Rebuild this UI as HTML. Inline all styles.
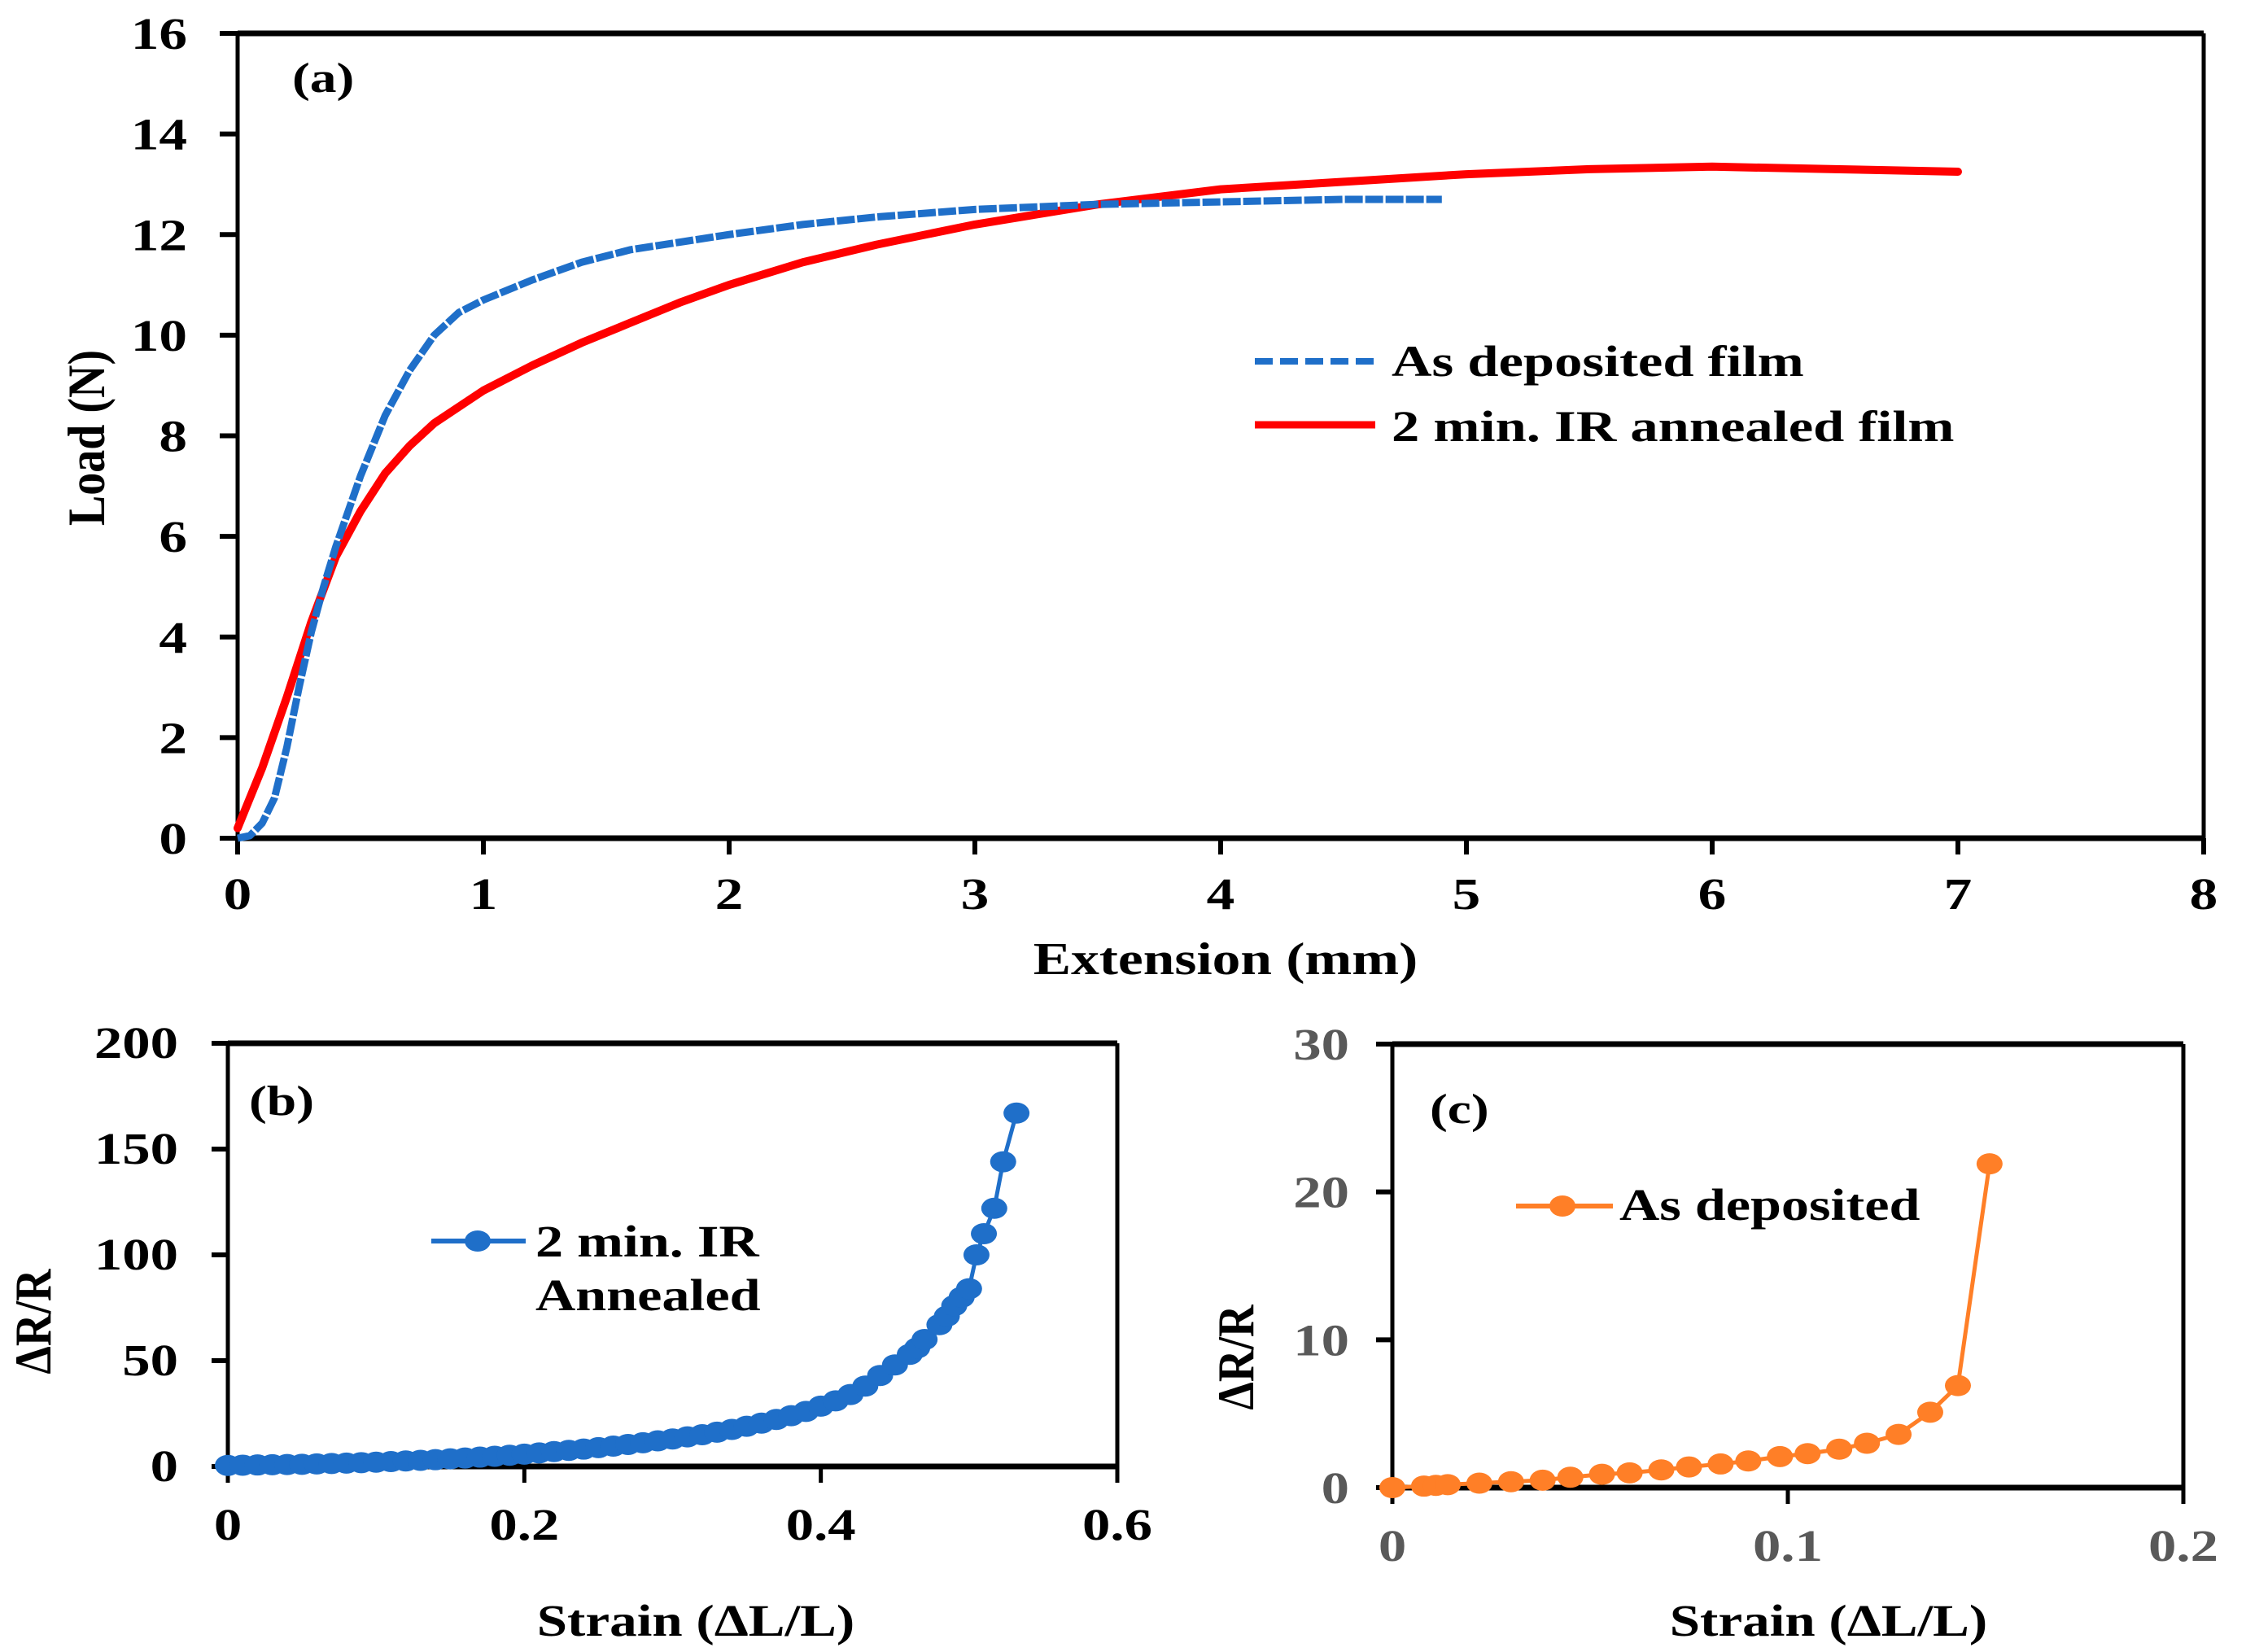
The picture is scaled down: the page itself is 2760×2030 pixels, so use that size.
<!DOCTYPE html>
<html><head><meta charset="utf-8">
<style>
html,body{margin:0;padding:0;background:#fff;}
svg{display:block;}
text{font-family:"Liberation Serif",serif;font-weight:bold;}
</style></head>
<body>
<svg id="fig" width="2760" height="2030" viewBox="0 0 2760 2030" xmlns="http://www.w3.org/2000/svg"></svg>
<script>
// ---------- Panel (a) data ----------
const aXTicks = [0,1,2,3,4,5,6,7,8];
const aYTicks = [0,2,4,6,8,10,12,14,16];
const blueExt  = [0,0.05,0.1,0.15,0.2,0.25,0.3,0.35,0.4,0.5,0.6,0.7,0.8,0.9,1.0,1.2,1.4,1.6,1.8,2.0,2.3,2.6,3.0,3.5,4.0,4.5,4.9];
const blueLoad = [0,0.05,0.3,0.8,1.8,3.0,4.1,5.0,5.8,7.2,8.4,9.3,10.0,10.45,10.7,11.1,11.45,11.7,11.85,12.0,12.2,12.35,12.5,12.6,12.65,12.7,12.7];
const redExt  = [0,0.1,0.2,0.3,0.4,0.5,0.6,0.7,0.8,1.0,1.2,1.4,1.6,1.8,2.0,2.3,2.6,3.0,3.5,4.0,4.5,5.0,5.5,6.0,6.5,7.0];
const redLoad = [0.2,1.4,2.8,4.3,5.6,6.5,7.25,7.8,8.25,8.9,9.4,9.85,10.25,10.65,11.0,11.45,11.8,12.2,12.6,12.9,13.05,13.2,13.3,13.35,13.3,13.25];
// ---------- Panel (b) data ----------
const bXTicks = [0,0.2,0.4,0.6];
const bYTicks = [0,50,100,150,200];
const bStrain = [0,0.01,0.02,0.03,0.04,0.05,0.06,0.07,0.08,0.09,0.10,0.11,0.12,0.13,0.14,0.15,0.16,0.17,0.18,0.19,0.20,0.21,0.22,0.23,0.24,0.25,0.26,0.27,0.28,0.29,0.30,0.31,0.32,0.33,0.34,0.35,0.36,0.37,0.38,0.39,0.40,0.41,0.42,0.43,0.44,0.45,0.46,0.465,0.47,0.48,0.485,0.49,0.495,0.50,0.505,0.51,0.517,0.523,0.532];
const bDR     = [0.5,0.6,0.7,0.8,0.9,1.0,1.2,1.4,1.6,1.8,2.0,2.3,2.6,2.9,3.2,3.6,4.0,4.4,4.8,5.3,5.8,6.4,7.0,7.6,8.2,8.9,9.6,10.4,11.2,12.1,13.0,14.0,15.0,16.2,17.5,19.0,20.5,22.2,24.0,26.0,28.5,31,34,38,43,48,53,56,60,67,71,76,80,84,100,110,122,144,167];
// ---------- Panel (c) data ----------
const cXTicks = [0,0.1,0.2];
const cYTicks = [0,10,20,30];
const cStrain = [0,0.008,0.011,0.014,0.022,0.030,0.038,0.045,0.053,0.060,0.068,0.075,0.083,0.090,0.098,0.105,0.113,0.120,0.128,0.136,0.143,0.151];
const cDR     = [0,0.1,0.15,0.2,0.3,0.4,0.5,0.7,0.9,1.0,1.2,1.4,1.6,1.8,2.1,2.3,2.6,3.0,3.6,5.1,6.9,21.9];

const NS="http://www.w3.org/2000/svg";
const svg=document.getElementById('fig');
function mk(tag,attrs,parent){const e=document.createElementNS(NS,tag);for(const k in attrs)e.setAttribute(k,attrs[k]);(parent||svg).appendChild(e);return e;}
function txt(str,x,y,size,anchor,fill,sx,rot,parent){
  const t=mk('text',{x:0,y:0,'font-size':size,'text-anchor':anchor||'start',fill:fill||'#000',
    transform:'translate('+x+','+y+') scale('+sx+',1)'},parent);
  if(rot){t.setAttribute('transform','translate('+x+','+y+') rotate('+rot+') scale(1,'+sx+')');}
  t.textContent=str;return t;}

function axes(L,R,T,B,xmin,xmax,ymin,ymax){
  return {sx:v=>L+(v-xmin)/(xmax-xmin)*(R-L), sy:v=>B-(v-ymin)/(ymax-ymin)*(B-T)};
}
function frame(g,L,R,T,B){
  mk('line',{x1:L,y1:T,x2:R,y2:T,stroke:'#000','stroke-width':7},g);
  mk('line',{x1:L,y1:B,x2:R,y2:B,stroke:'#000','stroke-width':7},g);
  mk('line',{x1:L,y1:T,x2:L,y2:B,stroke:'#000','stroke-width':5},g);
  mk('line',{x1:R,y1:T,x2:R,y2:B,stroke:'#000','stroke-width':5},g);
}
const SX=1.26;

// ===== Panel (a) =====
(function(){
  const L=292,R=2708,T=41,B=1030;
  const g=mk('g',{});
  
  
  const ax=axes(L,R,T,B,0,8,0,16);
  frame(g,L,R,T,B);
  aYTicks.forEach(v=>{const y=ax.sy(v);mk('line',{x1:L-22,y1:y,x2:L,y2:y,stroke:'#000','stroke-width':6},g);
    const t=txt(String(v),230,y+19,55,'end','#000',SX,0,g);});
  aXTicks.forEach(v=>{const x=ax.sx(v);mk('line',{x1:x,y1:B,x2:x,y2:B+20,stroke:'#000','stroke-width':6},g);
    const t=txt(String(v),x,1117,55,'middle','#000',SX,0,g);});
  const xt=txt('Extension (mm)',1506,1197,56,'middle','#000',1.24,0,g);
  
  const yt=txt('Load (N)',128,538,56,'middle','#000',1.15,-90,g);
  
  const pl=txt('(a)',359,113,52,'start','#000',SX,0,g);
  
  const red=mk('polyline',{points:redExt.map((v,i)=>ax.sx(v)+','+ax.sy(redLoad[i])).join(' '),fill:'none',stroke:'#ff0000','stroke-width':10,'stroke-linejoin':'round','stroke-linecap':'round'},g);
  
  const blue=mk('polyline',{points:blueExt.map((v,i)=>ax.sx(v)+','+ax.sy(blueLoad[i])).join(' '),fill:'none',stroke:'#1f6fc9','stroke-width':9,'stroke-dasharray':'22 3','stroke-linejoin':'round'},g);
  
  const lg=mk('g',{},g);
  
  mk('line',{x1:1542,y1:444,x2:1690,y2:444,stroke:'#1f6fc9','stroke-width':8,'stroke-dasharray':'22 9'},lg);
  txt('As deposited film',1710,462,54,'start','#000',1.27,0,lg);
  mk('line',{x1:1542,y1:522,x2:1690,y2:522,stroke:'#ff0000','stroke-width':9},lg);
  txt('2 min. IR annealed film',1710,542,54,'start','#000',1.27,0,lg);
})();

// ===== Panel (b) =====
(function(){
  const L=280,R=1373,T=1282,B=1802;
  const g=mk('g',{});
  
  
  const ax=axes(L,R,T,B,0,0.6,0,200);
  frame(g,L,R,T,B);
  bYTicks.forEach(v=>{const y=ax.sy(v);mk('line',{x1:L-20,y1:y,x2:L,y2:y,stroke:'#000','stroke-width':6},g);
    const t=txt(String(v),219,y+18,55,'end','#000',1.25,0,g);});
  bXTicks.forEach(v=>{const x=ax.sx(v);mk('line',{x1:x,y1:B,x2:x,y2:B+20,stroke:'#000','stroke-width':5},g);
    const t=txt(String(v),x,1892,55,'middle','#000',1.25,0,g);});
  const xt=txt('Strain (\u0394L/L)',855,2010,55,'middle','#000',1.22,0,g);
  
  const yt=txt('\u0394R/R',62,1624,55,'middle','#000',1.15,-90,g);
  
  const pl=txt('(b)',306,1370,52,'start','#000',SX,0,g);
  
  mk('polyline',{points:bStrain.map((v,i)=>ax.sx(v)+','+ax.sy(bDR[i])).join(' '),fill:'none',stroke:'#1f6fc9','stroke-width':5},g);
  bStrain.forEach((v,i)=>{const m=mk('ellipse',{cx:ax.sx(v),cy:ax.sy(bDR[i]),rx:16,ry:13,fill:'#1f6fc9'},g);
    });
  const lg=mk('g',{},g);
  
  mk('line',{x1:530,y1:1525,x2:646,y2:1525,stroke:'#1f6fc9','stroke-width':6},lg);
  mk('ellipse',{cx:587,cy:1525,rx:16,ry:13,fill:'#1f6fc9'},lg);
  txt('2 min. IR',658,1544,55,'start','#000',1.24,0,lg);
  txt('Annealed',658,1610,55,'start','#000',1.24,0,lg);
})();

// ===== Panel (c) =====
(function(){
  const L=1711,R=2683,T=1283,B=1828;
  const g=mk('g',{});
  
  
  const ax=axes(L,R,T,B,0,0.2,0,30);
  frame(g,L,R,T,B);
  const gray='#595959';
  cYTicks.forEach(v=>{const y=ax.sy(v);mk('line',{x1:L-20,y1:y,x2:L,y2:y,stroke:'#000','stroke-width':6},g);
    const t=txt(String(v),1658,y+19,55,'end',gray,1.25,0,g);});
  cXTicks.forEach(v=>{const x=ax.sx(v);mk('line',{x1:x,y1:B,x2:x,y2:B+20,stroke:'#000','stroke-width':5},g);
    const t=txt(String(v),x,1918,55,'middle',gray,1.25,0,g);});
  const xt=txt('Strain (\u0394L/L)',2247,2010,55,'middle','#000',1.22,0,g);
  
  const yt=txt('\u0394R/R',1540,1668,55,'middle','#000',1.15,-90,g);
  
  const pl=txt('(c)',1757,1380,52,'start','#000',SX,0,g);
  
  mk('polyline',{points:cStrain.map((v,i)=>ax.sx(v)+','+ax.sy(cDR[i])).join(' '),fill:'none',stroke:'#ff7f27','stroke-width':5},g);
  cStrain.forEach((v,i)=>{const m=mk('ellipse',{cx:ax.sx(v),cy:ax.sy(cDR[i]),rx:16,ry:13,fill:'#ff7f27'},g);
    });
  const lg=mk('g',{},g);
  
  mk('line',{x1:1863,y1:1482,x2:1982,y2:1482,stroke:'#ff7f27','stroke-width':6},lg);
  mk('ellipse',{cx:1920,cy:1482,rx:16,ry:13,fill:'#ff7f27'},lg);
  txt('As deposited',1990,1499,55,'start','#000',1.24,0,lg);
})();
</script>
</body></html>
